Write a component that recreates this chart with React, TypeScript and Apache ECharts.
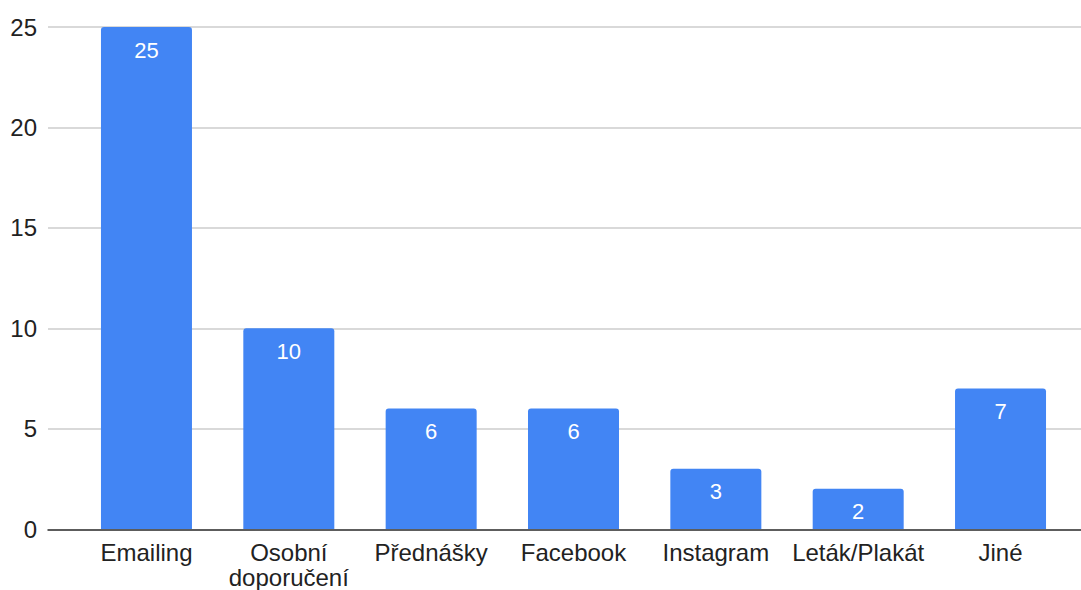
import React, { useEffect, useRef } from "react";
import * as echarts from "echarts";

const categories = ["Emailing", "Osobní\ndoporučení", "Přednášky", "Facebook", "Instagram", "Leták/Plakát", "Jiné"];
const values = [25, 10, 6, 6, 3, 2, 7];
const yMin = 0;
const yMax = 25;
const yInterval = 5;

export default function App() {
  const ref = useRef<HTMLDivElement>(null);
  useEffect(() => {
    if (!ref.current) return;
    const chart = echarts.init(ref.current, undefined, { renderer: "svg" });
    const font = "'Liberation Sans', Arial, sans-serif";
    chart.setOption({
      animation: false,
      backgroundColor: "#ffffff",
      grid: [
        { left: 48, right: 0, top: 27, bottom: 60.7 },
        { left: 75.3, right: 9.3, top: 27, bottom: 60.7 },
      ],
      xAxis: [
        {
          gridIndex: 0,
          type: "value",
          min: 0,
          max: 1,
          axisLine: { show: true, onZero: false, lineStyle: { color: "#333333", width: 1.5 } },
          axisTick: { show: false },
          axisLabel: { show: false },
          splitLine: { show: false },
        },
        {
          gridIndex: 1,
          type: "category",
          data: categories,
          axisLine: { show: false },
          axisTick: { show: false },
          axisLabel: {
            interval: 0,
            color: "#222222",
            fontFamily: font,
            fontSize: 24,
            lineHeight: 25,
            margin: 11,
          },
        },
      ],
      yAxis: [
        {
          gridIndex: 0,
          type: "value",
          min: yMin,
          max: yMax,
          interval: yInterval,
          axisLine: { show: false },
          axisTick: { show: false },
          axisLabel: { color: "#222222", fontFamily: font, fontSize: 24, margin: 11 },
          splitLine: { lineStyle: { color: "#cccccc", width: 1.5 } },
        },
        {
          gridIndex: 1,
          type: "value",
          min: yMin,
          max: yMax,
          interval: yInterval,
          show: false,
          splitLine: { show: false },
        },
      ],
      series: [
        {
          type: "bar",
          xAxisIndex: 1,
          yAxisIndex: 1,
          data: values,
          barWidth: 91,
          itemStyle: { color: "#4285F4", borderRadius: [3, 3, 0, 0] },
          label: {
            show: true,
            position: "insideTop",
            distance: 12,
            color: "#ffffff",
            fontFamily: font,
            fontSize: 22,
          },
        },
      ],
    });
    return () => chart.dispose();
  }, []);
  return <div ref={ref} style={{ position: "fixed", left: 0, top: 0, width: 1081, height: 590 }} />;
}
